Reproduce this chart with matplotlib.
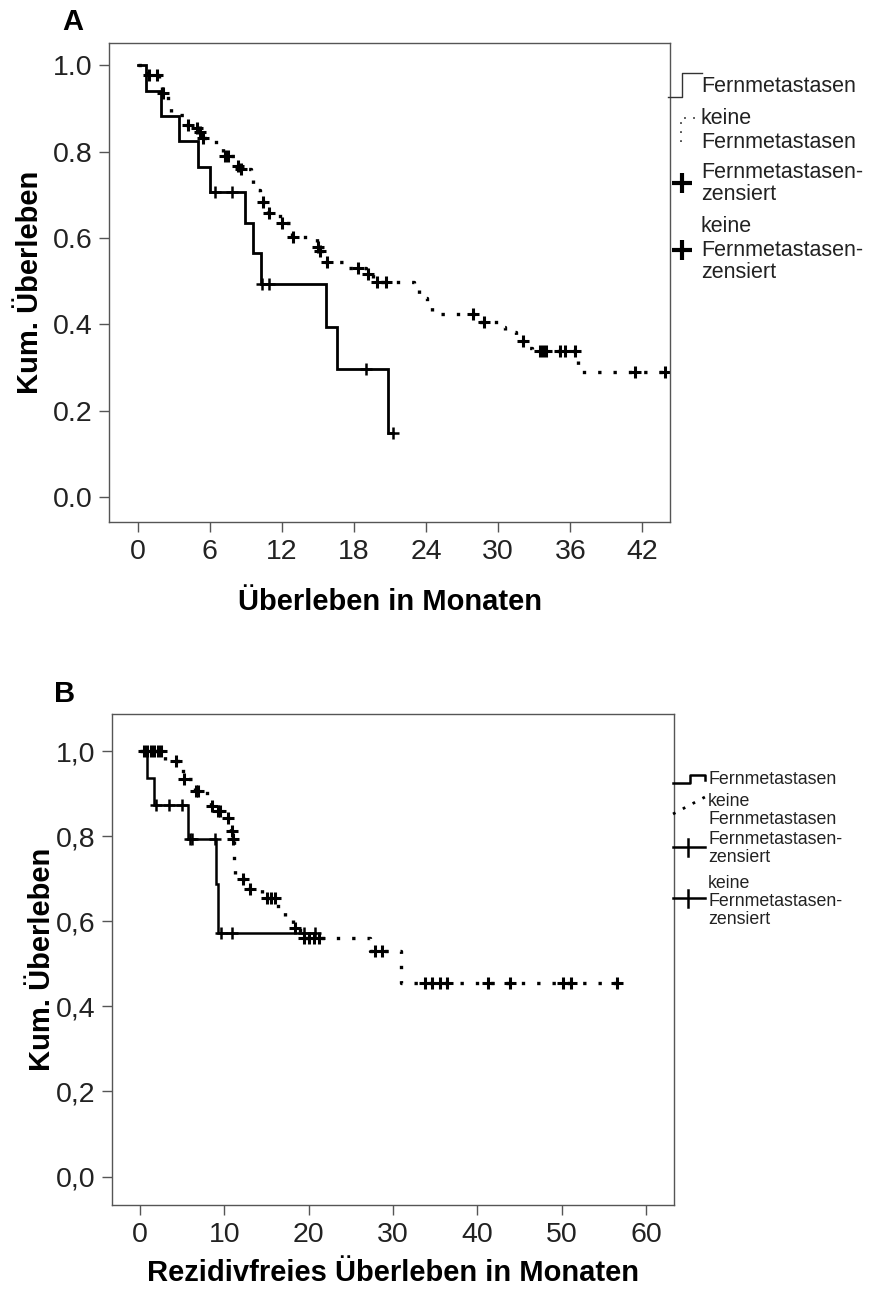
import numpy as np
import matplotlib
matplotlib.use("Agg")
import matplotlib.pyplot as plt
from matplotlib.lines import Line2D

plt.rcParams['font.family'] = ['Liberation Sans', 'DejaVu Sans']

# ---------------- Data: panel A (overall survival) ----------------
A_xticks = [0, 6, 12, 18, 24, 30, 36, 42]
A_yticks = [0.0, 0.2, 0.4, 0.6, 0.8, 1.0]
A_yticklabels = ["0.0", "0.2", "0.4", "0.6", "0.8", "1.0"]

# Fernmetastasen (solid)
A_fm_t = [0, 0.72, 1.92, 3.4, 4.97, 6.0, 8.92, 9.6, 10.25, 15.67, 16.6, 20.86, 21.2]
A_fm_s = [1.0, 0.941, 0.882, 0.824, 0.765, 0.706, 0.635, 0.565, 0.494, 0.395, 0.296, 0.148, 0.148]
A_fm_cens = [6.4, 7.86, 10.3, 10.9, 19.0, 21.2]

# keine Fernmetastasen (dotted)
A_kf_t = [0, 0.8, 1.8, 2.05, 2.5, 2.75, 4.0, 4.6, 5.0, 5.3, 6.5, 7.1, 8.2, 8.45, 9.45, 9.6,
          10.2, 10.8, 11.8, 12.8, 14.9, 15.1, 15.6, 17.3, 19.0, 19.6, 23.0, 23.4, 24.1, 24.5,
          28.5, 30.0, 30.6, 31.5, 32.3, 32.8, 36.6, 37.0, 43.86]
A_kf_s = [1.0, 0.978, 0.956, 0.935, 0.913, 0.884, 0.862, 0.854, 0.846, 0.833, 0.812, 0.790,
          0.766, 0.760, 0.739, 0.711, 0.684, 0.657, 0.634, 0.603, 0.580, 0.569, 0.545, 0.530,
          0.517, 0.499, 0.480, 0.460, 0.445, 0.424, 0.406, 0.395, 0.383, 0.362, 0.345, 0.339,
          0.306, 0.290, 0.290]
A_kf_cens = [0.95, 1.56, 2.11, 4.19, 4.89, 5.17, 5.4, 7.25, 7.53, 8.31, 8.55, 10.44, 10.94,
             11.97, 12.94, 15.03, 15.17, 15.72, 18.36, 19.19, 19.89, 20.64, 27.94, 28.78,
             32.05, 33.5, 33.75, 34.0, 35.17, 35.58, 36.42, 41.42, 43.86]

# ---------------- Data: panel B (recurrence-free survival) ----------------
B_xticks = [0, 10, 20, 30, 40, 50, 60]
B_yticks = [0.0, 0.2, 0.4, 0.6, 0.8, 1.0]
B_yticklabels = ["0,0", "0,2", "0,4", "0,6", "0,8", "1,0"]

B_fm_t = [0, 0.87, 1.66, 5.73, 9.02, 9.29, 20.8]
B_fm_s = [1.0, 0.9375, 0.875, 0.795, 0.687, 0.573, 0.573]
B_fm_cens = [1.9, 3.48, 5.02, 5.93, 6.13, 8.9, 9.57, 10.95, 19.5, 20.8]

B_kf_t = [0, 3.0, 4.9, 5.1, 6.5, 7.9, 8.4, 9.2, 10.4, 10.8, 11.0, 11.1, 11.2, 11.3, 12.9,
          14.5, 16.4, 17.2, 18.2, 19.0, 27.3, 31.0, 56.6]
B_kf_s = [1.0, 0.977, 0.958, 0.936, 0.908, 0.887, 0.872, 0.860, 0.844, 0.812, 0.793, 0.771,
          0.738, 0.700, 0.677, 0.656, 0.624, 0.605, 0.585, 0.562, 0.530, 0.455, 0.455]
B_kf_cens = [0.5, 0.9, 1.3, 1.7, 2.1, 2.5, 4.27, 5.2, 6.6, 6.9, 8.5, 9.3, 9.5, 10.5, 10.87,
             11.07, 12.2, 13.05, 15.1, 15.6, 16.0, 18.4, 19.4, 20.0, 20.6, 21.2, 27.9, 28.7,
             33.8, 34.6, 35.6, 36.4, 41.2, 43.9, 50.2, 51.1, 56.6]

legend_labels = [["Fernmetastasen"],
                 ["keine", "Fernmetastasen"],
                 ["Fernmetastasen-", "zensiert"],
                 ["keine", "Fernmetastasen-", "zensiert"]]

# ---------------- Figure ----------------
W, H = 881, 1297
fig = plt.figure(figsize=(W / 100, H / 100), dpi=100)


def fx(x):
    return x / W


def fy(y):
    return 1 - y / H


def axes_px(l, t, r, b):
    return fig.add_axes([fx(l), fy(b), (r - l) / W, (b - t) / H])


SPINE = "#555555"
DOT = (0, (1.0, 3.6))


def step_value(t_arr, s_arr, t):
    idx = np.searchsorted(np.asarray(t_arr), t, side="right") - 1
    return np.asarray(s_arr)[idx]


def style_axes(ax, xticks, yticks, yticklabels, xlim, ylim, xlabel, xpad, ypad):
    ax.set_xlim(*xlim)
    ax.set_ylim(*ylim)
    ax.set_xticks(xticks)
    ax.set_xticklabels([str(v) for v in xticks])
    ax.set_yticks(yticks)
    ax.set_yticklabels(yticklabels)
    for sp in ax.spines.values():
        sp.set_color(SPINE)
        sp.set_linewidth(1.0)
    ax.tick_params(axis="both", direction="out", length=7, width=1.0, color=SPINE,
                   labelsize=20.5, labelcolor="#222222", pad=5)
    ax.set_xlabel(xlabel, fontsize=21, fontweight="bold", labelpad=xpad)
    ax.set_ylabel("Kum. Überleben", fontsize=21, fontweight="bold", labelpad=ypad)


def draw_curves(ax, fm_t, fm_s, fm_c, kf_t, kf_s, kf_c, lw_solid, lw_dot):
    ax.plot(fm_t, fm_s, drawstyle="steps-post", color="black", lw=lw_solid,
            solid_joinstyle="miter")
    ax.plot(kf_t, kf_s, drawstyle="steps-post", color="black", lw=lw_dot, linestyle=DOT)
    ax.plot(fm_c, step_value(fm_t, fm_s, fm_c), linestyle="none", marker="+",
            markersize=8, mew=1.8, color="black")
    ax.plot(kf_c, step_value(kf_t, kf_s, kf_c), linestyle="none", marker="+",
            markersize=8, mew=2.2, color="black")


# ---- Panel A ----
axA = axes_px(109, 43, 670, 522)
draw_curves(axA, A_fm_t, A_fm_s, A_fm_cens, A_kf_t, A_kf_s, A_kf_cens, 2.0, 2.4)
style_axes(axA, A_xticks, A_yticks, A_yticklabels, (-2.4, 44.3), (-0.058, 1.052),
           "Überleben in Monaten", 17, 6)
fig.text(fx(62), fy(22), "A", fontsize=21, fontweight="bold", va="center", ha="left")

# ---- Panel B ----
axB = axes_px(112, 714, 674, 1205)
draw_curves(axB, B_fm_t, B_fm_s, B_fm_cens, B_kf_t, B_kf_s, B_kf_cens, 1.8, 2.4)
style_axes(axB, B_xticks, B_yticks, B_yticklabels, (-3.3, 63.3), (-0.067, 1.088),
           "Rezidivfreies Überleben in Monaten", 8, 0)
fig.text(fx(54), fy(694), "B", fontsize=21, fontweight="bold", va="center", ha="left")


def fline(xs, ys, **kw):
    fig.add_artist(Line2D([fx(x) for x in xs], [fy(y) for y in ys],
                          transform=fig.transFigure, **kw))


def ftext(x, y, s, size):
    fig.text(fx(x), fy(y), s, fontsize=size, va="center", ha="left", color="#222222")


# ---- Legend A ----
fline([668, 682, 682, 702], [97, 97, 73, 73], color="#333333", lw=1.0)
fline([681, 681, 700], [142, 118, 118], color="#444444", lw=1.3, linestyle=(0, (1, 4)))
fline([682], [183], marker="+", markersize=15, mew=3, color="black", linestyle="none")
fline([682], [250], marker="+", markersize=15, mew=3, color="black", linestyle="none")
A_leg_rows = [[87], [118, 142], [172, 194], [227, 250, 272]]
for rows, lines in zip(A_leg_rows, legend_labels):
    for y, s in zip(rows, lines):
        ftext(701, y, s, 15.5)

# ---- Legend B ----
fline([673, 690, 690, 705, 705], [783, 783, 775, 775, 780], color="black", lw=1.8)
fline([673, 705], [814, 797], color="black", lw=2.0, linestyle=(0, (1, 3)))
fline([673, 705], [847, 847], color="black", lw=1.8)
fline([688, 688], [839, 856], color="black", lw=1.8)
fline([673, 705], [898, 898], color="black", lw=1.8)
fline([688, 688], [890, 907], color="black", lw=1.8)
B_leg_rows = [[780], [802, 820], [840, 858], [883, 902, 920]]
for rows, lines in zip(B_leg_rows, legend_labels):
    for y, s in zip(rows, lines):
        ftext(708, y, s, 12.8)

fig.savefig("out.png", dpi=100, facecolor="white")
